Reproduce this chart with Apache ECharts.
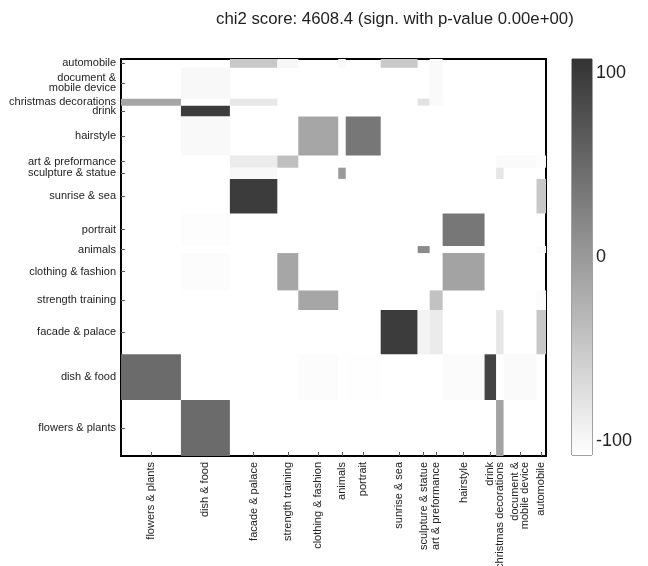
<!DOCTYPE html>
<html>
<head>
<meta charset="utf-8">
<script src="https://cdn.jsdelivr.net/npm/echarts@6/dist/echarts.min.js"></script>
<style>
  html, body { margin: 0; padding: 0; background: #fff; }
  #main { width: 648px; height: 566px; }
</style>
</head>
<body>
<div id="main"></div>
<script>
(function () {
  // categories, same order on both axes (x left->right, y bottom->top)
  var names = [
    "flowers & plants", "dish & food", "facade & palace", "strength training",
    "clothing & fashion", "animals", "portrait", "sunrise & sea",
    "sculpture & statue", "art & preformance", "hairstyle", "drink",
    "christmas decorations", "document &\nmobile device", "automobile"
  ];
  // relative size of each category (band width / height)
  var sizes = [60, 49, 47.5, 21, 40, 7.5, 35, 37, 12, 13, 42, 11.5, 7.5, 33, 9.5];

  // [column, row, residual]; cells not listed are at the white end
  var cells = [
    [2, 14, -46], [3, 14, -92], [5, 14, -95], [7, 14, -46], [9, 14, -95],
    [1, 13, -93], [9, 13, -95],
    [0, 12, -13], [2, 12, -76], [8, 12, -72], [9, 12, -95],
    [1, 11, 91],
    [1, 10, -94], [4, 10, -13], [6, 10, 33],
    [2, 9, -80], [3, 9, -37], [12, 9, -95], [13, 9, -95], [14, 9, -98],
    [2, 8, -93], [5, 8, -1], [12, 8, -75],
    [2, 7, 91], [14, 7, -46],
    [1, 6, -98], [10, 6, 33],
    [8, 5, 14], [14, 5, -96],
    [1, 4, -97], [3, 4, -13], [10, 4, -10],
    [4, 3, -13], [9, 3, -40], [14, 3, -96],
    [7, 2, 91], [8, 2, -88], [9, 2, -80], [12, 2, -76], [14, 2, -46],
    [0, 1, 45], [4, 1, -97], [6, 1, -99], [10, 1, -96], [11, 1, 84], [13, 1, -95],
    [1, 0, 45], [12, 0, -10]
  ];

  var colorTicks = [-100, 0, 100];
  var colorLimit = 107.6;

  // band edges and centres
  var edges = [0];
  for (var i = 0; i < sizes.length; i++) edges.push(edges[i] + sizes[i]);
  var total = edges[edges.length - 1];
  var centers = sizes.map(function (s, i) { return edges[i] + s / 2; });

  function nameAt(v) {
    var best = 0;
    for (var i = 0; i < centers.length; i++) {
      if (Math.abs(centers[i] - v) < Math.abs(centers[best] - v)) best = i;
    }
    return names[best];
  }

  var font = "Liberation Sans";
  var myChart = echarts.init(document.getElementById("main"));

  var option = {
    backgroundColor: "#fff",
    animation: false,
    title: {
      text: "chi2 score: 4608.4 (sign. with p-value 0.00e+00)",
      left: 211,
      top: 6,
      textStyle: { fontFamily: font, fontSize: 16.8, fontWeight: "normal", color: "#222" }
    },
    visualMap: {
      show: false,
      type: "continuous",
      seriesIndex: 0,
      dimension: 2,
      min: -100,
      max: 100,
      inRange: { color: ["#ffffff", "#333333"] }
    },
    grid: [
      { left: 121, right: 102, top: 59, bottom: 110, outerBoundsMode: "none", show: true, borderColor: "#000", borderWidth: 2, backgroundColor: "#fff" },
      { left: 572, width: 20, top: 59, bottom: 111, outerBoundsMode: "none", show: true, borderColor: "#444", borderWidth: 1 }
    ],
    xAxis: [
      {
        type: "value", gridIndex: 0, min: 0, max: total,
        splitLine: { show: false },
        axisLine: { show: false },
        axisTick: { show: true, inside: true, length: 4, customValues: centers, lineStyle: { color: "#555" } },
        axisLabel: {
          customValues: centers, rotate: 90, margin: 6, fontFamily: font, fontSize: 11, color: "#222", lineHeight: 10,
          formatter: function (v) { return nameAt(v); }
        }
      },
      { type: "value", gridIndex: 1, min: 0, max: 1, show: false }
    ],
    yAxis: [
      {
        type: "value", gridIndex: 0, min: 0, max: total,
        splitLine: { show: false },
        axisLine: { show: false },
        axisTick: { show: true, inside: true, length: 4, customValues: centers, lineStyle: { color: "#555" } },
        axisLabel: {
          customValues: centers, margin: 5, fontFamily: font, fontSize: 11, color: "#222", lineHeight: 10,
          formatter: function (v) { return nameAt(v); }
        }
      },
      {
        type: "value", gridIndex: 1, position: "right", min: -colorLimit, max: colorLimit,
        splitLine: { show: false },
        axisLine: { show: false },
        axisTick: { show: false },
        axisLabel: {
          customValues: colorTicks, margin: 4, fontFamily: font, fontSize: 18, color: "#222"
        }
      }
    ],
    series: [
      {
        type: "custom",
        xAxisIndex: 0,
        yAxisIndex: 0,
        data: cells,
        encode: { x: 0, y: 1 },
        renderItem: function (params, api) {
          var c = api.value(0), r = api.value(1);
          var p0 = api.coord([edges[c], edges[r + 1]]);
          var p1 = api.coord([edges[c + 1], edges[r]]);
          return {
            type: "rect",
            shape: { x: p0[0], y: p0[1], width: p1[0] - p0[0], height: p1[1] - p0[1] },
            style: { fill: api.visual("color") }
          };
        }
      },
      {
        type: "custom",
        xAxisIndex: 1,
        yAxisIndex: 1,
        silent: true,
        data: [[0, -colorLimit, colorLimit]],
        renderItem: function (params, api) {
          var p0 = api.coord([0, api.value(2)]);
          var p1 = api.coord([1, api.value(1)]);
          return {
            type: "rect",
            shape: { x: p0[0], y: p0[1], width: p1[0] - p0[0], height: p1[1] - p0[1] },
            style: {
              fill: new echarts.graphic.LinearGradient(0, 0, 0, 1, [
                { offset: 0, color: "#333333" },
                { offset: 1, color: "#ffffff" }
              ])
            }
          };
        }
      }
    ]
  };
  myChart.setOption(option);

  window.addEventListener("resize", function () {
    myChart.resize();
  });
})();
</script>
</body>
</html>
